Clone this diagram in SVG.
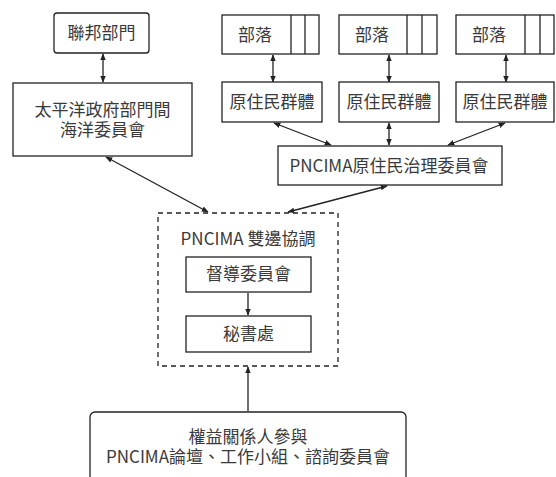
<svg xmlns="http://www.w3.org/2000/svg" width="556" height="477" viewBox="0 0 556 477">
<defs>
<style>
.b{fill:#fff;stroke:#222;stroke-width:1.3}
.d{fill:none;stroke:#222;stroke-width:1.3;stroke-dasharray:5,4}
.l{fill:none;stroke:#222;stroke-width:1.3}
.t{font-family:"Noto Sans CJK TC","Noto Sans",sans-serif;font-size:17px;fill:#3a3a3a;text-anchor:middle}
</style>
<marker id="a" viewBox="0 0 10 10" refX="9" refY="5" markerWidth="7" markerHeight="7" orient="auto-start-reverse" markerUnits="userSpaceOnUse">
<path d="M0,1 L10,5 L0,9 Z" fill="#222"/>
</marker>
</defs>
<rect width="556" height="477" fill="#fff"/>
<g id="connectors">
<line class="l" x1="103" y1="54" x2="103" y2="82" marker-start="url(#a)" marker-end="url(#a)"/>
<line class="l" x1="273" y1="55" x2="273" y2="82" marker-start="url(#a)" marker-end="url(#a)"/>
<line class="l" x1="389" y1="55" x2="389" y2="82" marker-start="url(#a)" marker-end="url(#a)"/>
<line class="l" x1="506" y1="55" x2="506" y2="82" marker-start="url(#a)" marker-end="url(#a)"/>
<line class="l" x1="274" y1="123" x2="331" y2="145" marker-start="url(#a)" marker-end="url(#a)"/>
<line class="l" x1="389" y1="123" x2="389" y2="145" marker-start="url(#a)" marker-end="url(#a)"/>
<line class="l" x1="505" y1="123" x2="448" y2="145" marker-start="url(#a)" marker-end="url(#a)"/>
<line class="l" x1="387" y1="186" x2="288" y2="212" marker-start="url(#a)" marker-end="url(#a)"/>
<line class="l" x1="106" y1="157" x2="208" y2="212" marker-start="url(#a)" marker-end="url(#a)"/>
<line class="l" x1="248" y1="293" x2="248" y2="315" marker-end="url(#a)"/>
<line class="l" x1="248" y1="411" x2="248" y2="367" marker-end="url(#a)"/>
</g>
<g id="federal">
<rect class="b" x="54" y="13" width="95" height="40" rx="3"/>
<text class="t" x="101.5" y="39">聯邦部門</text>
</g>
<g id="pacific">
<rect class="b" x="13" y="83" width="179" height="73"/>
<text class="t"><tspan x="102.5" y="116">太平洋政府部門間</tspan><tspan x="102.5" y="136">海洋委員會</tspan></text>
</g>
<g id="tribe1">
<rect class="b" x="222" y="15" width="97" height="39"/>
<line class="l" x1="291" y1="15" x2="291" y2="54"/>
<line class="l" x1="305" y1="15" x2="305" y2="54"/>
<text class="t" x="255" y="41">部落</text>
</g>
<g id="tribe2">
<rect class="b" x="339" y="15" width="98" height="39"/>
<line class="l" x1="407" y1="15" x2="407" y2="54"/>
<line class="l" x1="422" y1="15" x2="422" y2="54"/>
<text class="t" x="372" y="41">部落</text>
</g>
<g id="tribe3">
<rect class="b" x="456" y="15" width="98" height="39"/>
<line class="l" x1="525" y1="15" x2="525" y2="54"/>
<line class="l" x1="540" y1="15" x2="540" y2="54"/>
<text class="t" x="489" y="41">部落</text>
</g>
<g id="group1">
<rect class="b" x="222" y="82" width="100" height="40"/>
<text class="t" x="272" y="108">原住民群體</text>
</g>
<g id="group2">
<rect class="b" x="339" y="82" width="100" height="40"/>
<text class="t" x="389" y="108">原住民群體</text>
</g>
<g id="group3">
<rect class="b" x="456" y="82" width="98" height="40"/>
<text class="t" x="505" y="108">原住民群體</text>
</g>
<g id="pncima-gov">
<rect class="b" x="278" y="146" width="224" height="39"/>
<text class="t" x="389" y="172">PNCIMA原住民治理委員會</text>
</g>
<g id="bilateral">
<rect class="d" x="158" y="213" width="180" height="153"/>
<text class="t" x="248" y="245">PNCIMA 雙邊協調</text>
</g>
<g id="steering">
<rect class="b" x="186" y="257" width="125" height="35"/>
<text class="t" x="248.5" y="280">督導委員會</text>
</g>
<g id="secretariat">
<rect class="b" x="186" y="316" width="125" height="36"/>
<text class="t" x="248.5" y="340">秘書處</text>
</g>
<g id="stakeholders">
<rect class="b" x="90" y="412" width="316" height="80" rx="5"/>
<text class="t"><tspan x="248" y="443">權益關係人參與</tspan><tspan x="248" y="463">PNCIMA論壇、工作小組、諮詢委員會</tspan></text>
</g>
</svg>
